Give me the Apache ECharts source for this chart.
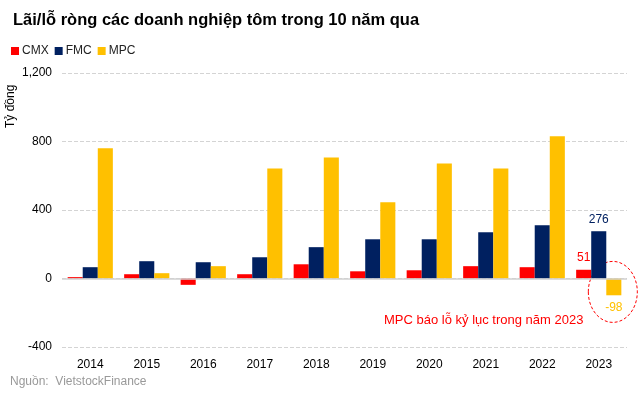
<!DOCTYPE html>
<html><head><meta charset="utf-8">
<script src="https://cdn.jsdelivr.net/npm/echarts@6/dist/echarts.min.js"></script>
<style>html,body{margin:0;padding:0;background:#fff}#c{width:640px;height:402px}</style>
</head><body><div id="c"></div>
<script>
const years = ['2014','2015','2016','2017','2018','2019','2020','2021','2022','2023'];
const cmx = [8, 25, -37, 25, 83, 42, 48, 72, 66, 51];
const fmc = [66, 101, 95, 124, 183, 229, 229, 270, 311, 276];
const mpc = [760, 31, 72, 643, 707, 445, 672, 643, 830, -98];
const yTicks = [-400, 0, 400, 800, 1200];

const FONT = '"Liberation Sans", Arial, sans-serif';
const lastIdx = years.length - 1;
function lbl(arr, color, pos) {
  return arr.map((v, i) => i === lastIdx ? {value: v, label: {show: true, position: pos, color: color, fontSize: 12, fontFamily: FONT, distance: 6}} : v);
}

const chart = echarts.init(document.getElementById('c'));
chart.setOption({
  animation: false,
  title: {text: 'Lãi/lỗ ròng các doanh nghiệp tôm trong 10 năm qua', left: 8, top: 7,
    textStyle: {fontFamily: FONT, fontSize: 16.5, fontWeight: 'bold', color: '#000'}},
  legend: {left: 6, top: 40, itemWidth: 8, itemHeight: 8, itemGap: 6, icon: 'rect',
    textStyle: {fontFamily: FONT, fontSize: 12, color: '#222', padding: [0,0,0,-2]},
    data: ['CMX','FMC','MPC']},
  grid: {left: 62, right: 13, top: 73, bottom: 55},
  xAxis: {type: 'category', data: years,
    axisLine: {show: false}, axisTick: {show: false},
    axisLabel: {fontFamily: FONT, fontSize: 12, color: '#000', margin: 12}},
  yAxis: {type: 'value', min: yTicks[0], max: yTicks[yTicks.length-1], interval: 400,
    axisLine: {show: false}, axisTick: {show: false},
    axisLabel: {fontFamily: FONT, fontSize: 12, color: '#000', margin: 10,
      formatter: v => v.toLocaleString('en-US')},
    splitLine: {lineStyle: {color: '#d4d4d4', type: [4,2]}}},
  series: [
    {name: 'CMX', type: 'bar', data: lbl(cmx, '#ff0000', 'top'), itemStyle: {color: '#ff0000'}, barGap: '0%', barCategoryGap: '20%'},
    {name: 'FMC', type: 'bar', data: lbl(fmc, '#002060', 'top'), itemStyle: {color: '#002060'},
      markLine: {silent: true, symbol: 'none', label: {show: false}, lineStyle: {color: '#d0d0d0', type: 'solid', width: 1.5}, data: [{yAxis: 0}]}},
    {name: 'MPC', type: 'bar', data: lbl(mpc, '#ffc000', 'bottom'), itemStyle: {color: '#ffc000'}}
  ]
});

function addAnnot() {
  const p = chart.convertToPixel({seriesIndex: 2}, [lastIdx, mpc[lastIdx]]);
  const z = chart.convertToPixel({seriesIndex: 2}, [lastIdx, 0]);
  const band = chart.getModel().getComponent('xAxis', 0).axis.getBandWidth();
  const barW = band * 0.8 / 3;
  const cx = p[0] + barW - 1, cy = (p[1] + z[1]) / 2 + 5;
  chart.setOption({graphic: [
    {type: 'ellipse', shape: {cx: cx, cy: cy, rx: 24.5, ry: 30.5}, silent: true,
      style: {fill: 'none', stroke: '#ff0000', lineWidth: 1, lineDash: [3,2]}},
    {type: 'text', left: 384, top: 314, style: {text: 'MPC báo lỗ kỷ lục trong năm 2023', fill: '#ff0000', font: '13px ' + FONT}},
    {type: 'text', x: 5, y: 128, rotation: Math.PI / 2, style: {text: 'Tỷ đồng', fill: '#000', font: '12px ' + FONT, verticalAlign: 'top'}},
    {type: 'text', left: 10, top: 376, style: {text: 'Nguồn:  VietstockFinance', fill: '#999999', font: '12px ' + FONT}}
  ]});
}
addAnnot();
</script></body></html>
